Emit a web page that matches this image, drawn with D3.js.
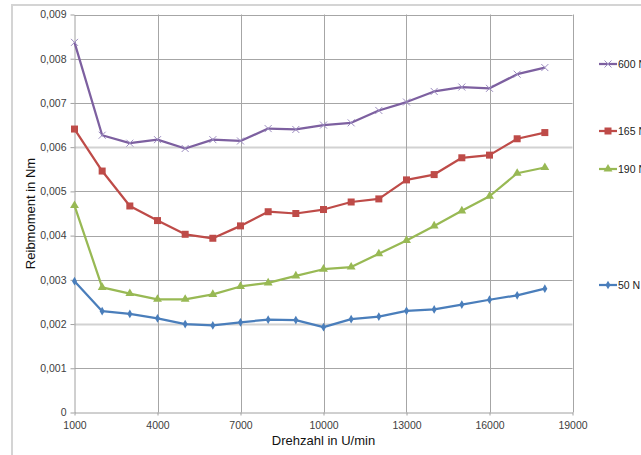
<!DOCTYPE html>
<html><head><meta charset="utf-8">
<script src="https://cdn.jsdelivr.net/npm/d3@7"></script>
<style>body{margin:0;background:#fff}svg{display:block}text{font-family:"Liberation Sans",Arial,sans-serif}</style>
</head><body><svg id="c" width="641" height="455"></svg>
<script>
const speeds = [1000,2000,3000,4000,5000,6000,7000,8000,9000,10000,11000,12000,13000,14000,15000,16000,17000,18000];
const s600 = [0.00837,0.00627,0.00609,0.00617,0.00597,0.00617,0.00614,0.00642,0.00640,0.00650,0.00655,0.00683,0.00702,0.00726,0.00736,0.00733,0.00765,0.00780];
const s165 = [0.00641,0.00546,0.00467,0.00434,0.00403,0.00394,0.00422,0.00454,0.00450,0.00459,0.00476,0.00483,0.00526,0.00538,0.00576,0.00582,0.00619,0.00633];
const s190 = [0.00468,0.00283,0.00269,0.00256,0.00256,0.00267,0.00285,0.00293,0.00309,0.00324,0.00329,0.00359,0.00389,0.00422,0.00456,0.00489,0.00541,0.00554];
const s50  = [0.00297,0.00229,0.00223,0.00213,0.00200,0.00197,0.00204,0.00210,0.00209,0.00193,0.00211,0.00217,0.00230,0.00233,0.00244,0.00255,0.00265,0.00280];
const seriesNames = ["600 N","165 N","190 N","50 N"];
const xTicks = [1000,4000,7000,10000,13000,16000,19000];
const yTicks = [0,0.001,0.002,0.003,0.004,0.005,0.006,0.007,0.008,0.009];

const series = [
  {name:seriesNames[0], values:s600, color:"#7D60A0", marker:"x", legY:64},
  {name:seriesNames[1], values:s165, color:"#BE4B48", marker:"square", legY:131},
  {name:seriesNames[2], values:s190, color:"#98B954", marker:"triangle", legY:169},
  {name:seriesNames[3], values:s50,  color:"#4A7EBB", marker:"diamond", legY:285}
];

const svg = d3.select("#c");
const L=74.5, R=572.5, T=14.5, B=412.5;
const x = d3.scaleLinear().domain([1000,19000]).range([L,R]);
const y = d3.scaleLinear().domain([0,0.009]).range([B,T]);
const fmt = d => d===0 ? "0" : d3.format(".3f")(d).replace(".",",");

// outer chart border
svg.append("rect").attr("x",12).attr("y",5).attr("width",720).attr("height",520)
  .attr("fill","#fff").attr("stroke","#d4d4d4").attr("stroke-width",2);

// gridlines
const g = svg.append("g");
g.selectAll(".hg").data(yTicks.filter(d=>d>0)).join("line")
  .attr("x1",L).attr("x2",R).attr("y1",d=>Math.round(y(d))+0.5).attr("y2",d=>Math.round(y(d))+0.5)
  .attr("stroke",d=>(Math.abs(d-0.006)<1e-9||Math.abs(d-0.002)<1e-9)?"#d2d2d2":"#a6a6a6")
  .attr("stroke-width",d=>(Math.abs(d-0.006)<1e-9||Math.abs(d-0.002)<1e-9)?2:1);
g.selectAll(".vg").data(xTicks.filter(d=>d>1000)).join("line")
  .attr("y1",T).attr("y2",B).attr("x1",d=>Math.round(x(d))+0.5).attr("x2",d=>Math.round(x(d))+0.5)
  .attr("stroke","#a6a6a6");

// axes
const xAxis = d3.axisBottom(x).tickValues(xTicks).tickFormat(d3.format("d")).tickSizeOuter(0).tickSizeInner(3).tickPadding(6);
const yAxis = d3.axisLeft(y).tickValues(yTicks).tickFormat(fmt).tickSizeOuter(0).tickSizeInner(4).tickPadding(4);
const gx = svg.append("g").attr("transform",`translate(0,${B})`).call(xAxis);
const gy = svg.append("g").attr("transform",`translate(${L},0)`).call(yAxis);
[gx,gy].forEach(a=>{
  a.select(".domain").attr("stroke","#a0a0a0");
  a.selectAll(".tick line").attr("stroke","#a0a0a0");
  a.selectAll("text").attr("fill","#404040").style("font-size","10.5px");
});

// titles
svg.append("text").attr("x",(L+R)/2).attr("y",445).attr("text-anchor","middle")
  .style("font-size","13px").attr("fill","#111").text("Drehzahl in U/min");
svg.append("text").attr("transform",`translate(35,${(T+B)/2}) rotate(-90)`).attr("text-anchor","middle")
  .style("font-size","13px").attr("fill","#111").text("Reibmoment in Nm");

// markers
function drawMarker(sel, type, color, size){
  if(type==="x"){
    const h=size/2;
    sel.append("path").attr("d",`M${-h},${-h}L${h},${h}M${-h},${h}L${h},${-h}`)
      .attr("stroke","#9c8cc0").attr("stroke-width",1).attr("fill","none");
  } else if(type==="square"){
    sel.append("rect").attr("x",-3.5).attr("y",-3.5).attr("width",7).attr("height",7).attr("fill",color);
  } else if(type==="triangle"){
    sel.append("path").attr("d",d3.symbol(d3.symbolTriangle,34)()).attr("fill",color);
  } else {
    sel.append("path").attr("d",d3.symbol(d3.symbolDiamond,22)()).attr("fill",color);
  }
}

const line = d3.line().x((d,i)=>x(speeds[i])).y(d=>y(d));
series.forEach(s=>{
  svg.append("path").datum(s.values).attr("d",line).attr("fill","none")
    .attr("stroke",s.color).attr("stroke-width",2.25).attr("stroke-linejoin","round");
  s.values.forEach((v,i)=>{
    const m = svg.append("g").attr("transform",`translate(${x(speeds[i])},${y(v)})`);
    drawMarker(m, s.marker, s.color, 7);
  });
  // legend
  const lg = svg.append("g");
  lg.append("line").attr("x1",599).attr("x2",617).attr("y1",s.legY).attr("y2",s.legY)
    .attr("stroke",s.color).attr("stroke-width",2.25);
  const mk = lg.append("g").attr("transform",`translate(608,${s.legY})`);
  drawMarker(mk, s.marker, s.color, 7);
  lg.append("text").attr("x",618).attr("y",s.legY+4).style("font-size","10.5px").attr("fill","#222").text(s.name);
});
</script></body></html>
